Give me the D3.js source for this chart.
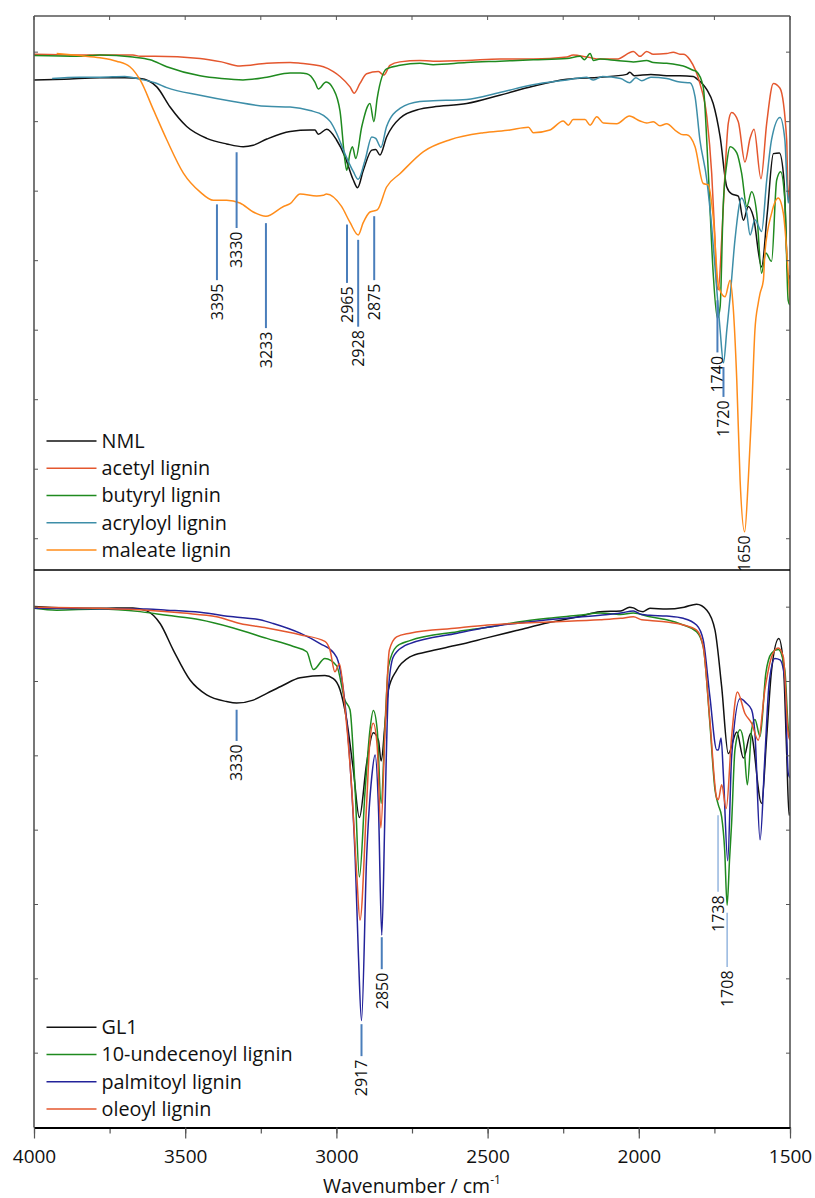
<!DOCTYPE html>
<html>
<head>
<meta charset="utf-8">
<script src="https://cdn.jsdelivr.net/npm/d3@7"></script>
<style>
  body { margin: 0; background: #fff; }
  text { font-family: "Open Sans", "Noto Sans", sans-serif; fill: #111; }
</style>
</head>
<body>
<svg id="chart" width="815" height="1198"></svg>
<script>
// ---------- FTIR spectra, [wavenumber (cm-1), transmittance (a.u.)] ----------

// upper panel
const nml = [[4000,66.0],[3900,66.1],[3782,66.3],[3700,66.3],[3649,66.2],[3594,65.0],[3550,62.1],[3495,59.3],[3429,57.6],[3363,56.8],[3308,56.4],[3275,56.6],[3230,57.5],[3153,58.6],[3087,58.8],[3071,58.8],[3060,58.2],[3032,58.9],[3000,57.4],[2972,55.0],[2944,51.6],[2930,50.5],[2911,53.0],[2883,55.9],[2870,56.0],[2856,55.2],[2834,57.8],[2790,60.5],[2724,61.8],[2680,62.1],[2569,62.6],[2460,63.8],[2350,65.1],[2238,66.1],[2128,66.4],[2040,66.8],[2030,67.1],[2015,66.6],[1960,66.8],[1908,66.6],[1864,66.6],[1820,66.5],[1809,66.2],[1775,64.6],[1754,62.6],[1731,57.8],[1709,50.6],[1693,49.6],[1671,49.3],[1654,45.8],[1638,47.8],[1621,46.3],[1594,39.1],[1575,46.9],[1555,55.4],[1535,55.5],[1520,51.6],[1506,37.2],[1500,37.9]];

const acetyl = [[4000,69.7],[3850,69.6],[3673,69.6],[3649,69.4],[3600,69.4],[3451,69.1],[3380,68.6],[3319,68.0],[3230,68.4],[3153,68.5],[3120,68.4],[3043,67.9],[3010,67.2],[2988,66.5],[2955,65.0],[2941,64.1],[2922,65.5],[2900,66.9],[2861,67.2],[2843,66.7],[2823,68.1],[2790,68.6],[2724,68.8],[2680,68.7],[2569,68.8],[2459,69.0],[2349,69.0],[2238,69.3],[2217,69.6],[2172,69.3],[2128,69.0],[2073,69.0],[2018,70.1],[1996,69.4],[1974,70.1],[1952,69.7],[1908,69.8],[1886,70.0],[1864,69.7],[1853,69.7],[1831,68.9],[1798,65.5],[1775,60.7],[1759,52.6],[1748,43.0],[1742,36.5],[1737,35.8],[1726,43.0],[1715,52.6],[1704,59.8],[1693,61.3],[1671,60.0],[1649,54.2],[1632,57.6],[1619,58.9],[1596,51.8],[1577,59.8],[1555,65.5],[1533,64.8],[1511,57.4],[1506,48.7],[1500,51.6]];

const butyryl = [[4000,69.5],[3850,69.4],[3782,69.6],[3673,69.3],[3616,68.9],[3561,67.9],[3451,66.6],[3380,66.2],[3309,66.0],[3230,66.4],[3153,67.0],[3120,67.0],[3098,66.9],[3071,65.7],[3060,64.7],[3034,65.7],[3010,64.7],[2988,61.5],[2972,54.5],[2966,53.0],[2955,55.5],[2947,56.4],[2936,54.7],[2916,59.3],[2889,62.6],[2876,60.0],[2865,63.4],[2834,67.6],[2790,68.1],[2724,68.4],[2680,68.2],[2569,68.5],[2459,68.7],[2349,68.9],[2238,69.1],[2194,69.4],[2180,68.9],[2161,69.8],[2150,68.8],[2128,69.0],[2073,68.8],[2018,68.6],[1974,68.8],[1952,68.5],[1908,68.4],[1864,68.1],[1853,68.0],[1820,67.4],[1809,67.2],[1787,65.0],[1770,52.6],[1754,38.2],[1740,31.7],[1731,33.4],[1721,47.8],[1709,54.0],[1698,56.4],[1676,55.5],[1660,52.6],[1643,47.8],[1627,49.9],[1610,46.8],[1594,38.2],[1580,41.1],[1561,39.9],[1544,51.6],[1531,52.8],[1517,48.7],[1506,34.3],[1500,33.6]];

const acryloyl = [[3940,66.2],[3850,66.4],[3782,66.4],[3700,66.5],[3649,66.1],[3600,65.6],[3561,64.9],[3451,63.8],[3341,62.9],[3230,62.2],[3153,62.1],[3087,61.6],[3043,60.9],[3020,60.0],[2999,58.3],[2972,55.4],[2944,52.8],[2928,51.7],[2905,54.5],[2883,57.8],[2870,57.6],[2853,56.3],[2834,59.3],[2790,61.9],[2724,62.9],[2680,63.0],[2569,63.2],[2460,64.2],[2350,65.3],[2238,66.0],[2172,66.4],[2150,66.0],[2120,66.5],[2060,66.2],[2030,65.6],[2010,66.3],[1990,65.9],[1960,66.4],[1908,66.2],[1864,65.7],[1831,65.6],[1814,63.6],[1798,57.4],[1775,51.6],[1759,44.9],[1742,35.8],[1731,30.0],[1720,25.3],[1709,30.0],[1698,34.8],[1682,43.0],[1660,49.0],[1643,46.8],[1632,43.7],[1616,45.9],[1594,44.2],[1577,51.6],[1561,57.4],[1533,60.6],[1517,57.4],[1506,48.3],[1500,50.2]];

const maleate = [[3925,69.8],[3850,69.5],[3782,69.2],[3727,68.7],[3683,67.9],[3649,66.0],[3605,61.7],[3561,57.4],[3506,52.6],[3451,49.9],[3407,48.7],[3363,48.7],[3319,48.3],[3275,47.0],[3233,46.4],[3175,47.8],[3153,48.2],[3120,49.6],[3065,49.3],[3043,49.4],[3033,49.6],[2983,47.8],[2955,45.5],[2928,43.7],[2911,45.5],[2889,47.0],[2865,47.3],[2834,50.6],[2790,52.5],[2712,55.7],[2624,57.4],[2514,58.4],[2426,58.8],[2365,59.2],[2349,58.4],[2294,58.8],[2250,60.1],[2233,59.5],[2217,60.3],[2178,60.3],[2161,59.5],[2139,60.7],[2117,59.8],[2073,59.7],[2031,60.8],[1996,60.1],[1974,59.8],[1952,60.0],[1930,59.4],[1908,59.7],[1875,58.6],[1853,58.1],[1842,58.1],[1814,56.4],[1787,51.1],[1770,50.9],[1754,46.3],[1737,36.5],[1715,34.8],[1698,37.2],[1688,33.4],[1676,22.8],[1665,8.4],[1650,1.0],[1638,8.4],[1627,18.1],[1616,30.0],[1605,33.9],[1599,35.3],[1588,37.2],[1583,41.1],[1561,46.8],[1539,49.0],[1522,46.8],[1506,38.2],[1500,33.9]];

// lower panel
const gl1 = [[4000,70.1],[3900,69.9],[3782,69.85],[3673,69.9],[3627,69.5],[3583,67.8],[3539,64.2],[3484,60.2],[3429,58.2],[3363,57.3],[3330,57.1],[3275,57.5],[3230,58.4],[3176,59.5],[3120,60.5],[3038,60.8],[3010,60.4],[2988,58.9],[2966,54.8],[2944,48.1],[2924,41.7],[2900,49.0],[2878,53.1],[2861,52.1],[2852,49.3],[2839,54.4],[2828,58.9],[2801,61.5],[2757,63.3],[2700,64.0],[2600,64.9],[2500,65.9],[2400,66.9],[2300,67.9],[2200,68.7],[2128,69.4],[2060,69.5],[2030,70.0],[2018,69.9],[2000,69.5],[1986,69.4],[1963,69.85],[1908,69.75],[1850,70.0],[1809,70.4],[1775,69.6],[1748,66.9],[1726,59.3],[1704,50.3],[1676,53.2],[1654,49.7],[1630,53.0],[1594,43.6],[1577,52.6],[1561,61.5],[1537,65.8],[1522,62.4],[1511,50.4],[1503,42.0],[1500,42.4]];

const undecenoyl = [[4000,69.85],[3925,69.6],[3782,69.75],[3649,69.4],[3561,68.9],[3451,68.3],[3341,67.2],[3230,65.8],[3142,64.7],[3098,64.0],[3076,61.6],[3038,63.1],[2999,62.1],[2972,57.5],[2955,56.2],[2938,45.4],[2924,33.7],[2905,45.4],[2889,53.5],[2878,56.1],[2865,53.5],[2852,43.6],[2839,54.4],[2828,62.0],[2801,64.7],[2757,65.5],[2600,66.7],[2500,67.3],[2400,68.0],[2300,68.5],[2200,68.9],[2128,69.2],[2060,69.0],[2018,69.2],[1963,68.7],[1908,68.3],[1853,67.6],[1809,66.7],[1787,64.7],[1765,54.4],[1748,45.4],[1737,43.4],[1726,41.8],[1716,37.3],[1708,29.9],[1700,36.0],[1693,41.0],[1682,50.8],[1665,53.5],[1653,51.7],[1641,46.1],[1627,53.5],[1616,54.9],[1599,52.6],[1580,61.1],[1561,63.8],[1539,64.3],[1517,61.5],[1506,53.9],[1500,52.6]];

const palmitoyl = [[4000,69.85],[3800,69.8],[3627,69.75],[3561,69.6],[3451,69.3],[3341,68.7],[3253,68.3],[3209,67.8],[3120,66.5],[3054,65.1],[3010,63.9],[2994,62.7],[2977,58.9],[2955,49.0],[2938,36.4],[2927,23.0],[2917,14.4],[2900,36.4],[2883,47.2],[2872,50.1],[2861,43.2],[2850,25.9],[2839,43.2],[2828,58.9],[2812,63.3],[2779,64.7],[2757,65.1],[2600,66.5],[2500,67.3],[2300,68.3],[2128,68.9],[2060,69.2],[2018,69.5],[1990,69.0],[1963,68.9],[1908,68.8],[1853,68.5],[1809,67.6],[1787,65.6],[1765,58.0],[1742,50.8],[1737,50.8],[1728,52.4],[1720,47.2],[1706,35.9],[1693,49.9],[1665,57.7],[1645,57.1],[1627,56.2],[1616,53.0],[1599,38.7],[1583,49.9],[1569,59.8],[1550,63.1],[1533,62.9],[1517,60.2],[1506,47.7],[1500,47.0]];

const oleoyl = [[4000,70.0],[3782,69.85],[3627,69.6],[3506,69.2],[3396,68.7],[3319,67.8],[3230,67.2],[3120,66.3],[3038,65.4],[3021,64.2],[3005,61.3],[2990,62.4],[2972,56.6],[2949,45.4],[2933,34.2],[2922,27.9],[2900,43.6],[2889,52.1],[2878,54.4],[2865,51.2],[2853,40.3],[2839,53.5],[2825,64.2],[2801,66.0],[2757,66.5],[2600,67.2],[2500,67.6],[2300,68.0],[2128,68.3],[2060,68.5],[2018,68.7],[1990,68.3],[1963,68.2],[1908,68.0],[1853,67.6],[1809,66.9],[1787,64.7],[1765,54.8],[1742,44.3],[1737,44.1],[1726,46.1],[1711,42.9],[1693,52.6],[1674,58.6],[1649,55.7],[1627,54.4],[1605,52.1],[1583,58.9],[1561,63.3],[1539,64.5],[1522,63.3],[1506,53.0],[1500,52.1]];

// series names, in legend order
const topNames = ["NML", "acetyl lignin", "butyryl lignin", "acryloyl lignin", "maleate lignin"];
const bottomNames = ["GL1", "10-undecenoyl lignin", "palmitoyl lignin", "oleoyl lignin"];

// band assignments: wavenumber, and the transmittance span of the marker line
const topBands = [
  { wn: 3395, from: 48.1, to: 37.2 },
  { wn: 3330, from: 55.6, to: 44.7 },
  { wn: 3233, from: 45.4, to: 30.3 },
  { wn: 2965, from: 45.2, to: 36.8 },
  { wn: 2928, from: 43.0, to: 30.5 },
  { wn: 2875, from: 46.4, to: 37.2 },
  { wn: 1740, from: 34.3, to: 26.8 },
  { wn: 1720, from: 24.7, to: 20.4 },
  { wn: 1650, from: 1.0,  to: 1.0 }
];
const bottomBands = [
  { wn: 3330, from: 56.2, to: 52.0 },
  { wn: 2917, from: 13.9, to: 9.6 },
  { wn: 2850, from: 25.6, to: 21.3 },
  { wn: 1738, from: 42.0, to: 31.7 },
  { wn: 1708, from: 28.9, to: 21.6 }
];

const xTicksMajor = [4000, 3500, 3000, 2500, 2000, 1500];
const xTicksAll = [4000, 3750, 3500, 3250, 3000, 2750, 2500, 2250, 2000, 1750, 1500];
const yTickValues = [0, 10, 20, 30, 40, 50, 60, 70];

// ---------- layout ----------
const svg = d3.select("#chart");
const L = 34, R = 790, T = 16, MID = 570, B = 1127.5;

const x = d3.scaleLinear().domain([4000, 1500]).range([L, R]);
const yTop = d3.scaleLinear().domain([-4.5, 75.2]).range([MID, T]);
const yBot = d3.scaleLinear().domain([0, 75]).range([B, MID]);

const colors = {
  black: "#111111",
  red: "#e4572e",
  green: "#1f8a1f",
  teal: "#3d8ea8",
  orange: "#ff8c1a",
  navy: "#23239a"
};
const topSeries = [
  { name: topNames[0], data: nml, color: colors.black },
  { name: topNames[1], data: acetyl, color: colors.red },
  { name: topNames[2], data: butyryl, color: colors.green },
  { name: topNames[3], data: acryloyl, color: colors.teal },
  { name: topNames[4], data: maleate, color: colors.orange }
];
const bottomSeries = [
  { name: bottomNames[0], data: gl1, color: colors.black },
  { name: bottomNames[1], data: undecenoyl, color: colors.green },
  { name: bottomNames[2], data: palmitoyl, color: colors.navy },
  { name: bottomNames[3], data: oleoyl, color: colors.red }
];

svg.append("rect").attr("width", 815).attr("height", 1198).attr("fill", "#fff");

const defs = svg.append("defs");
defs.append("clipPath").attr("id", "clipTop")
  .append("rect").attr("x", L).attr("y", T).attr("width", R - L).attr("height", MID - T);
defs.append("clipPath").attr("id", "clipBot")
  .append("rect").attr("x", L).attr("y", MID).attr("width", R - L).attr("height", B - MID);

// ---------- spectra ----------
function drawSpectra(series, yScale, clipId) {
  const line = d3.line()
    .x(d => x(d[0]))
    .y(d => yScale(d[1]))
    .curve(d3.curveMonotoneX);
  svg.append("g").attr("clip-path", `url(#${clipId})`)
    .selectAll("path")
    .data(series)
    .join("path")
    .attr("d", s => line(s.data))
    .attr("fill", "none")
    .attr("stroke", s => s.color)
    .attr("stroke-width", 1.5)
    .attr("stroke-linejoin", "round");
}
drawSpectra(topSeries, yTop, "clipTop");
drawSpectra(bottomSeries, yBot, "clipBot");

// ---------- band markers ----------
const faintBands = new Set([1738, 1708]);
function drawBands(bands, yScale) {
  const g = svg.append("g");
  bands.forEach(b => {
    const faint = faintBands.has(b.wn);
    if (b.from !== b.to) {
      g.append("line")
        .attr("x1", x(b.wn)).attr("x2", x(b.wn))
        .attr("y1", yScale(b.from)).attr("y2", yScale(b.to))
        .attr("stroke", faint ? "#6f9bd3" : "#4a7ebb")
        .attr("stroke-width", faint ? 1.1 : 2);
    }
    const ly = yScale(b.to) + 3.5;
    g.append("text")
      .attr("transform", `translate(${x(b.wn)},${ly}) rotate(-90)`)
      .attr("text-anchor", "end")
      .attr("dy", "0.36em")
      .style("font-size", "16px")
      .text(b.wn);
  });
}
drawBands(topBands, yTop);
drawBands(bottomBands, yBot);

// ---------- frame and ticks ----------
const frame = svg.append("g");
const grey = "#555";
// top border with inward ticks
frame.append("line").attr("x1", L).attr("x2", R).attr("y1", T).attr("y2", T)
  .attr("stroke", grey).attr("stroke-width", 1.4);
frame.selectAll(".tt").data(xTicksAll).join("line")
  .attr("x1", d => x(d)).attr("x2", d => x(d))
  .attr("y1", T).attr("y2", T + 4)
  .attr("stroke", grey).attr("stroke-width", 1);
// side axes
frame.append("line").attr("x1", L).attr("x2", L).attr("y1", T).attr("y2", B)
  .attr("stroke", grey).attr("stroke-width", 1.6);
frame.append("line").attr("x1", R).attr("x2", R).attr("y1", T).attr("y2", B)
  .attr("stroke", grey).attr("stroke-width", 1.6);
// y ticks, pointing inward on both sides
function sideTicks(yScale, values) {
  frame.selectAll(null).data(values).join("line")
    .attr("x1", L).attr("x2", L + 4)
    .attr("y1", d => yScale(d)).attr("y2", d => yScale(d))
    .attr("stroke", grey).attr("stroke-width", 1);
  frame.selectAll(null).data(values).join("line")
    .attr("x1", R - 4).attr("x2", R)
    .attr("y1", d => yScale(d)).attr("y2", d => yScale(d))
    .attr("stroke", grey).attr("stroke-width", 1);
}
sideTicks(yTop, yTickValues);
sideTicks(yBot, yTickValues.filter(v => v > 0));
// panel divider
frame.append("line").attr("x1", L).attr("x2", R).attr("y1", MID).attr("y2", MID)
  .attr("stroke", "#000").attr("stroke-width", 1.6);

// bottom wavenumber axis
const minorAxis = d3.axisBottom(x).tickValues(xTicksAll).tickSize(6).tickFormat("").tickSizeOuter(0);
const majorAxis = d3.axisBottom(x).tickValues(xTicksMajor).tickSize(11).tickPadding(11).tickSizeOuter(0)
  .tickFormat(d3.format("d"));
const gMinor = svg.append("g").attr("transform", `translate(0,${B})`).call(minorAxis);
const gMajor = svg.append("g").attr("transform", `translate(0,${B})`).call(majorAxis);
[gMinor, gMajor].forEach(g => {
  g.select(".domain").attr("stroke", "#000").attr("stroke-width", 1.8);
  g.selectAll(".tick line").attr("stroke", grey).attr("stroke-width", 1.2);
});
gMajor.selectAll(".tick text")
  .style("font-size", "19px")
  .style("font-family", '"Open Sans", sans-serif')
  .attr("fill", "#111");

// axis title
const title = svg.append("text")
  .attr("x", (L + R) / 2).attr("y", 1193)
  .attr("text-anchor", "middle")
  .style("font-size", "19.5px");
title.append("tspan").text("Wavenumber / cm");
title.append("tspan").attr("dy", -9).style("font-size", "12px").text("-1");

// ---------- legends ----------
function legend(series, y0) {
  const g = svg.append("g");
  series.forEach((s, i) => {
    const yy = y0 + i * 27.25;
    g.append("line").attr("x1", 46.5).attr("x2", 96.5).attr("y1", yy).attr("y2", yy)
      .attr("stroke", s.color).attr("stroke-width", 1.4);
    g.append("text").attr("x", 101.5).attr("y", yy).attr("dy", "0.35em")
      .style("font-size", "19.8px").text(s.name);
  });
}
legend(topSeries, 441);
legend(bottomSeries, 1027.3);
</script>
</body>
</html>
